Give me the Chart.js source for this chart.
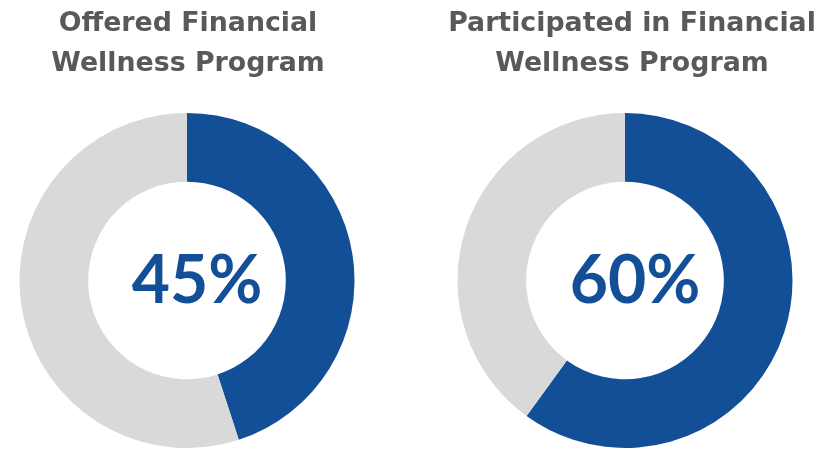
<!DOCTYPE html>
<html>
<head>
<meta charset="utf-8">
<script src="https://cdn.jsdelivr.net/npm/chart.js@4.4.0/dist/chart.umd.min.js"></script>
<style>
  body { margin: 0; background: #fff; width: 826px; height: 449px; overflow: hidden; position: relative; }
  .box { position: absolute; top: 0; height: 449px; }
  #left { left: 0; width: 374px; }
  #right { left: 438px; width: 374px; }
  .title { position: absolute; width: 420px; text-align: center; white-space: nowrap;
           font-family: "DejaVu Sans"; font-weight: bold; font-size: 26.8px; color: #595959; line-height: 40px; }
</style>
</head>
<body>
<div class="box" id="left"><canvas id="offered-chart"></canvas></div>
<div class="box" id="right"><canvas id="participated-chart"></canvas></div>
<div class="title" id="t1a" style="left:-22px; top:2px;"></div>
<div class="title" id="t1b" style="left:-22px; top:42px;"></div>
<div class="title" id="t2a" style="left:422px; top:2px;"></div>
<div class="title" id="t2b" style="left:422px; top:42px;"></div>
<script>
// data
const segmentLabels = ["Yes", "No"];
const offeredValues = [45, 55];
const participatedValues = [60, 40];
const offeredTitle = ["Offered Financial", "Wellness Program"];
const participatedTitle = ["Participated in Financial", "Wellness Program"];

const blue = "#134f97";
const grey = "#d9d9d9";

//titles as plain text above each ring
document.getElementById("t1a").textContent = offeredTitle[0];
document.getElementById("t1b").textContent = offeredTitle[1];
document.getElementById("t2a").textContent = participatedTitle[0];
document.getElementById("t2b").textContent = participatedTitle[1];

//draws the big percentage in the middle of the ring
const centerText = {
    id: "centerText",
    afterDraw(chart){
        const arc = chart.getDatasetMeta(0).data[0];
        if(!arc) return;
        const ctx = chart.ctx;
        const value = chart.data.datasets[0].data[0];
        ctx.save();
        ctx.fillStyle = blue;
        ctx.font = "bold 66px Lato";
        ctx.textAlign = "center";
        ctx.textBaseline = "middle";
        ctx.fillText(value + "%", arc.x + 10, arc.y + 1);
        ctx.restore();
    }
};

function makeDonut(id, values){
    new Chart(document.getElementById(id), {
        type: "doughnut",
        data: {
            labels: segmentLabels,
            datasets: [{
                data: values,
                backgroundColor: [blue, grey],
                borderWidth: 0
            }]
        },
        options: {
            responsive: true,
            maintainAspectRatio: false,
            animation: false,
            cutout: "59%",
            layout: { padding: { top: 113, bottom: 1 } },
            plugins: {
                legend: { display: false },
                tooltip: { enabled: false }
            }
        },
        plugins: [centerText]
    });
}

makeDonut("offered-chart", offeredValues);
makeDonut("participated-chart", participatedValues);
</script>
</body>
</html>
